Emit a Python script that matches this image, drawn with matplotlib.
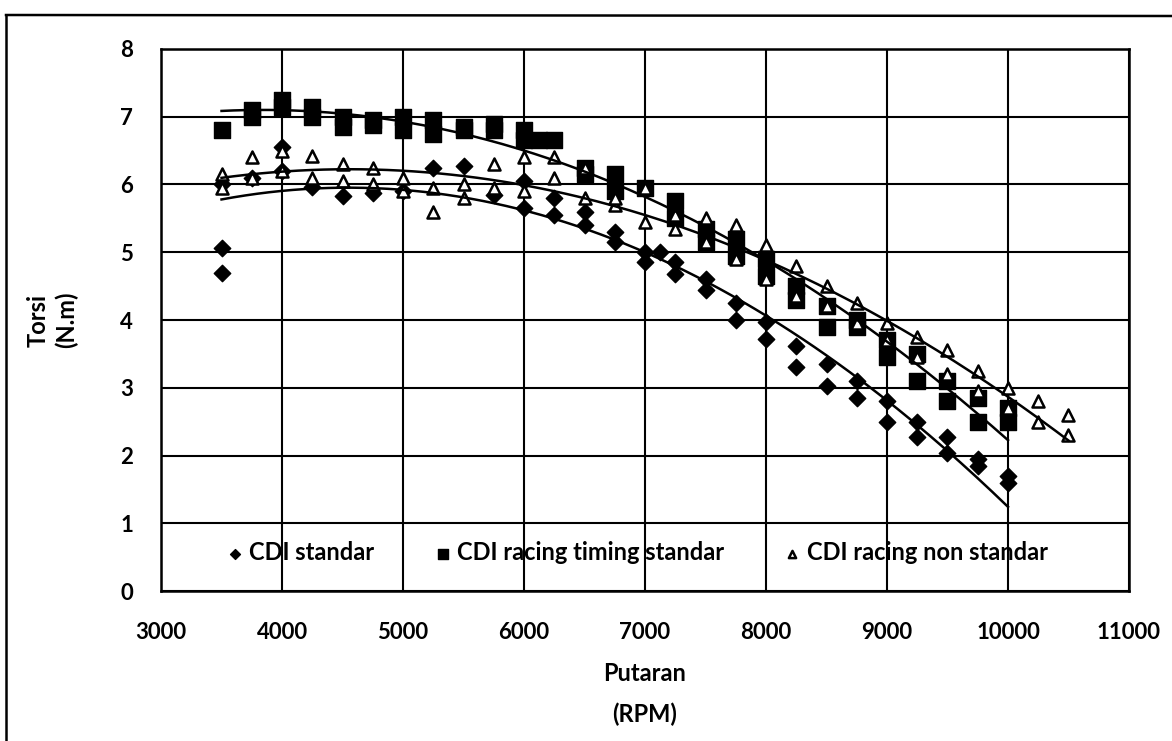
import numpy as np
import matplotlib
matplotlib.use('Agg')
from matplotlib import pyplot as plt
from matplotlib.lines import Line2D

plt.rcParams['font.family'] = ['Lato', 'DejaVu Sans']
plt.rcParams['font.weight'] = 'bold'

#data: CDI standar
rpm_std = [3500, 3500, 3500, 3750, 4000, 4000, 4250, 4500, 4750, 5000, 5250, 5500, 5750,
           6000, 6000, 6250, 6250, 6500, 6500, 6750, 6750, 7000, 7000, 7125, 7250, 7250,
           7500, 7500, 7750, 7750, 8000, 8000, 8250, 8250, 8500, 8500, 8750, 8750,
           9000, 9000, 9250, 9250, 9500, 9500, 9750, 9750, 10000, 10000]
torsi_std = [5.07, 4.70, 6.00, 6.10, 6.55, 6.20, 5.97, 5.83, 5.88, 5.90, 6.25, 6.28, 5.85,
             5.65, 6.05, 5.55, 5.80, 5.40, 5.60, 5.15, 5.30, 4.85, 5.00, 5.00, 4.68, 4.85,
             4.45, 4.60, 4.00, 4.25, 3.72, 3.97, 3.30, 3.62, 3.02, 3.35, 2.85, 3.10,
             2.50, 2.80, 2.28, 2.50, 2.03, 2.27, 1.85, 1.95, 1.60, 1.70]

#data: CDI racing timing standar
rpm_rts = [3500, 3750, 3750, 4000, 4000, 4250, 4250, 4500, 4500, 4750, 4750, 5000, 5000,
           5250, 5250, 5500, 5500, 5750, 5750, 6000, 6000, 6125, 6250, 6500, 6500,
           6750, 6750, 7000, 7250, 7250, 7500, 7500, 7750, 7750, 8000, 8000, 8250, 8250,
           8500, 8500, 8750, 8750, 9000, 9000, 9250, 9250, 9500, 9500, 9750, 9750,
           10000, 10000]
torsi_rts = [6.80, 7.00, 7.10, 7.25, 7.15, 7.15, 7.00, 7.00, 6.85, 6.95, 6.88, 7.00, 6.80,
             6.95, 6.75, 6.85, 6.80, 6.90, 6.80, 6.80, 6.65, 6.65, 6.65, 6.25, 6.15,
             6.15, 5.90, 5.95, 5.75, 5.50, 5.35, 5.15, 5.20, 4.95, 4.65, 4.90, 4.30, 4.50,
             3.90, 4.20, 3.90, 4.00, 3.45, 3.70, 3.10, 3.50, 2.80, 3.10, 2.50, 2.85,
             2.50, 2.70]

#data: CDI racing non standar
rpm_rns = [3500, 3500, 3750, 3750, 4000, 4000, 4250, 4250, 4500, 4500, 4750, 4750,
           5000, 5000, 5250, 5250, 5500, 5500, 5750, 5750, 6000, 6000, 6250, 6250,
           6500, 6500, 6750, 6750, 7000, 7000, 7250, 7250, 7500, 7500, 7750, 7750,
           8000, 8000, 8250, 8250, 8500, 8500, 8750, 8750, 9000, 9000, 9250, 9250,
           9500, 9500, 9750, 9750, 10000, 10000, 10250, 10250, 10500, 10500]
torsi_rns = [6.15, 5.95, 6.40, 6.10, 6.50, 6.20, 6.42, 6.10, 6.30, 6.05, 6.25, 6.00,
             6.10, 5.90, 5.95, 5.60, 6.00, 5.80, 6.30, 5.95, 6.40, 5.90, 6.40, 6.10,
             6.25, 5.80, 5.70, 5.80, 5.45, 5.95, 5.35, 5.55, 5.50, 5.15, 5.40, 4.90,
             5.10, 4.60, 4.80, 4.35, 4.50, 4.20, 4.25, 3.95, 3.95, 3.70, 3.75, 3.45,
             3.55, 3.20, 3.25, 2.95, 3.00, 2.70, 2.80, 2.50, 2.60, 2.30]

fig = plt.figure(figsize=(11.72, 7.41), dpi=100)
ax = fig.add_axes([0.1374, 0.2024, 0.8259, 0.7315])

#scatter
ax.scatter(rpm_std, torsi_std, marker='D', s=70, c='black', zorder=3, label='CDI standar')
ax.scatter(rpm_rts, torsi_rts, marker='s', s=130, c='black', zorder=3, label='CDI racing timing standar')
ax.scatter(rpm_rns, torsi_rns, marker='^', s=75, facecolors='white', edgecolors='black',
           linewidths=1.8, zorder=4, label='CDI racing non standar')

#polynomial trendlines (order 2)
for xs, ys in [(rpm_std, torsi_std), (rpm_rts, torsi_rts), (rpm_rns, torsi_rns)]:
    p = np.polyfit(xs, ys, 2)
    xx = np.linspace(min(xs), max(xs), 200)
    ax.plot(xx, np.polyval(p, xx), color='black', lw=1.8, zorder=5)

#axes
ax.set_xlim(3000, 11000)
ax.set_ylim(0, 8)
ax.set_xticks(range(3000, 11001, 1000))
ax.set_yticks(range(0, 9))
ax.grid(True, color='black', lw=1.5)
ax.set_axisbelow(True)
ax.tick_params(length=0, labelsize=16)
ax.tick_params(axis='x', pad=22)
ax.tick_params(axis='y', pad=20)
for s in ax.spines.values():
    s.set_linewidth(1.8)
ax.set_xlabel('Putaran\n(RPM)', fontsize=17, fontweight='bold', labelpad=14, linespacing=1.9)
ax.set_ylabel('Torsi\n(N.m)', fontsize=17, fontweight='bold', labelpad=30, linespacing=1.3)

leg = ax.legend(loc='lower center', bbox_to_anchor=(0.49, 0.01), ncol=3, frameon=False,
                fontsize=17, markerscale=0.6, handletextpad=0.1, handlelength=1.0,
                columnspacing=2.4, borderaxespad=0.5)
leg.set_zorder(6)

#outer border
fig.add_artist(Line2D([6/1172, 6/1172], [0, 1-15/741], color='black', lw=1.8))
fig.add_artist(Line2D([6/1172, 1], [1-15/741, 1-16/741], color='black', lw=1.8))

plt.savefig('out.png', dpi=100)
